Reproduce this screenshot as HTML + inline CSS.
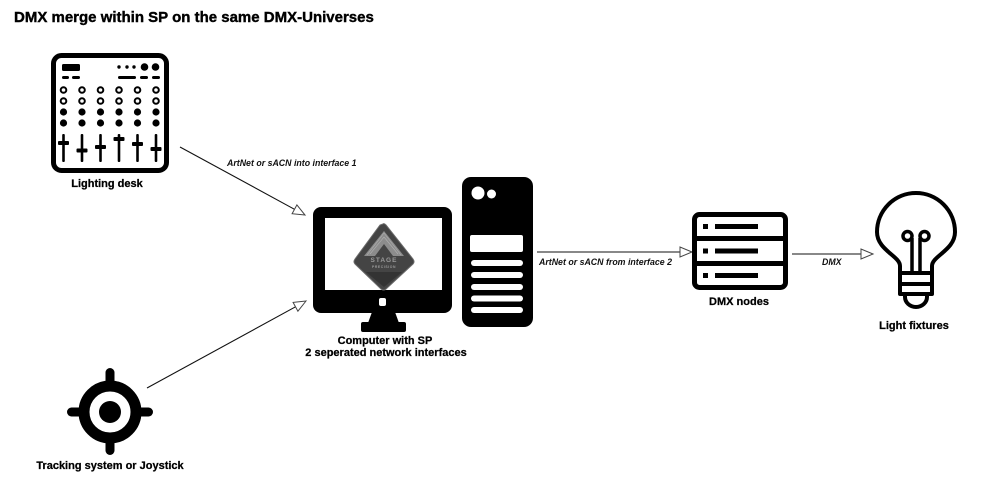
<!DOCTYPE html>
<html><head><meta charset="utf-8"><style>
html,body{margin:0;padding:0;background:#fff;}
svg{display:block;}
text{font-family:"Liberation Sans",Arial,sans-serif;}
.lbl{font-size:11px;font-weight:bold;fill:#000;text-anchor:middle;stroke:#000;stroke-width:0.25px;}
.it{font-size:8.8px;font-weight:bold;font-style:italic;fill:#111;}
</style></head><body>
<svg width="1000" height="485" viewBox="0 0 1000 485" xmlns="http://www.w3.org/2000/svg">
<rect width="1000" height="485" fill="#fff"/>
<text x="14" y="22" style="font-size:15px;font-weight:bold;fill:#000;stroke:#000;stroke-width:0.4px">DMX merge within SP on the same DMX-Universes</text>

<!-- Lighting desk -->
<rect x="53.5" y="55.5" width="113" height="115" rx="8" fill="#fff" stroke="#000" stroke-width="5"/>
<rect x="62" y="64" width="18" height="7" rx="1.5" fill="#000"/>
<rect x="62" y="76" width="7" height="3" rx="1.5" fill="#000"/>
<rect x="72" y="76" width="8" height="3" rx="1.5" fill="#000"/>
<circle cx="119" cy="67" r="1.7" fill="#000"/>
<circle cx="127" cy="67" r="1.7" fill="#000"/>
<circle cx="134" cy="67" r="1.7" fill="#000"/>
<circle cx="144.5" cy="67" r="3.8" fill="#000"/>
<circle cx="155.5" cy="67" r="3.8" fill="#000"/>
<rect x="118" y="76" width="18" height="3" rx="1.5" fill="#000"/>
<rect x="140" y="76" width="8" height="3" rx="1.5" fill="#000"/>
<rect x="152" y="76" width="8" height="3" rx="1.5" fill="#000"/>
<g fill="none" stroke="#000" stroke-width="2">
<circle cx="63.5" cy="90" r="2.8"/><circle cx="82" cy="90" r="2.8"/><circle cx="100.5" cy="90" r="2.8"/><circle cx="119" cy="90" r="2.8"/><circle cx="137.5" cy="90" r="2.8"/><circle cx="156" cy="90" r="2.8"/>
<circle cx="63.5" cy="101" r="2.8"/><circle cx="82" cy="101" r="2.8"/><circle cx="100.5" cy="101" r="2.8"/><circle cx="119" cy="101" r="2.8"/><circle cx="137.5" cy="101" r="2.8"/><circle cx="156" cy="101" r="2.8"/>
</g>
<g fill="#000">
<circle cx="63.5" cy="112" r="3.6"/><circle cx="82" cy="112" r="3.6"/><circle cx="100.5" cy="112" r="3.6"/><circle cx="119" cy="112" r="3.6"/><circle cx="137.5" cy="112" r="3.6"/><circle cx="156" cy="112" r="3.6"/>
<circle cx="63.5" cy="123" r="3.6"/><circle cx="82" cy="123" r="3.6"/><circle cx="100.5" cy="123" r="3.6"/><circle cx="119" cy="123" r="3.6"/><circle cx="137.5" cy="123" r="3.6"/><circle cx="156" cy="123" r="3.6"/>
<rect x="62.2" y="134" width="2.6" height="28" rx="1"/>
<rect x="80.7" y="134" width="2.6" height="28" rx="1"/>
<rect x="99.2" y="134" width="2.6" height="28" rx="1"/>
<rect x="117.7" y="134" width="2.6" height="28" rx="1"/>
<rect x="136.2" y="134" width="2.6" height="28" rx="1"/>
<rect x="154.7" y="134" width="2.6" height="28" rx="1"/>
<rect x="58" y="141" width="11" height="4" rx="1"/>
<rect x="76.5" y="148.5" width="11" height="4" rx="1"/>
<rect x="95" y="145" width="11" height="4" rx="1"/>
<rect x="113.5" y="137" width="11" height="4" rx="1"/>
<rect x="132" y="142" width="11" height="4" rx="1"/>
<rect x="150.5" y="147" width="11" height="4" rx="1"/>
</g>
<text class="lbl" x="107" y="187">Lighting desk</text>

<!-- Tracking -->
<g fill="#000">
<rect x="105.5" y="368" width="9" height="20" rx="4.5"/>
<rect x="105.5" y="436" width="9" height="19" rx="4.5"/>
<rect x="67" y="407.5" width="20" height="9" rx="4.5"/>
<rect x="133" y="407.5" width="20" height="9" rx="4.5"/>
</g>
<circle cx="110" cy="412" r="26" fill="none" stroke="#000" stroke-width="11"/>
<circle cx="110" cy="412" r="11" fill="#000"/>
<text class="lbl" x="110" y="469">Tracking system or Joystick</text>

<!-- Arrows -->
<g stroke="#111" stroke-width="1.1" fill="none">
<line x1="180" y1="147" x2="294.5" y2="209.3"/>
<line x1="147" y1="388" x2="295.5" y2="306.8"/>
<line x1="537" y1="252" x2="680" y2="252"/>
<line x1="792" y1="254" x2="861" y2="254"/>
</g>
<g stroke="#444" stroke-width="1" fill="#fff">
<polygon points="305,215 292.1,213.7 296.9,204.9"/>
<polygon points="306,301 297.9,311.2 293.1,302.4"/>
<polygon points="692,252 680,247 680,257"/>
<polygon points="873,254 861,249 861,259"/>
</g>
<text class="it" x="227" y="166">ArtNet or sACN into interface 1</text>
<text class="it" x="539" y="265">ArtNet or sACN from interface 2</text>
<text class="it" x="822" y="265">DMX</text>

<!-- Monitor -->
<rect x="313" y="207" width="139" height="106" rx="8" fill="#000"/>
<rect x="325" y="218" width="117" height="72" fill="#fff"/>
<rect x="379" y="298" width="7" height="8" rx="2" fill="#fff"/>
<path d="M372 312 L395 312 L399 323 L368 323 Z" fill="#000"/>
<rect x="361" y="322" width="45" height="10" rx="2" fill="#000"/>
<!-- logo -->
<path d="M383 224 Q384 223 386 225 L413 259 Q415 262 413 264 L386 289 Q384 291 381 289 L355 264 Q353 262 355 259 L380 225 Z" fill="#444" stroke="#6a6a6a" stroke-width="1"/>
<path d="M384 231 L404 256 L364 256 Z" fill="#8c8c8c"/>
<path d="M384 237 L398 254 M384 237 L370 254 M384 233 L401 255 M384 233 L367 255" stroke="#b0b0b0" stroke-width="0.6" fill="none"/>
<path d="M384 244 L393 256 L375 256 Z" fill="#444"/>
<text x="384" y="262" style="font-size:6.5px;font-weight:bold;fill:#9a9a9a;text-anchor:middle;letter-spacing:1px">STAGE</text>
<text x="384" y="268" style="font-size:3.4px;font-weight:bold;fill:#9a9a9a;text-anchor:middle;letter-spacing:0.6px">PRECISION</text>
<path d="M366 272 L402 272 L384 287 Z" fill="#333"/>

<!-- Tower -->
<rect x="462" y="177" width="71" height="150" rx="9" fill="#000"/>
<circle cx="478" cy="193" r="6.5" fill="#fff"/>
<circle cx="491.5" cy="194" r="4.5" fill="#fff"/>
<rect x="470" y="235" width="53" height="17" rx="2" fill="#fff"/>
<g fill="#fff">
<rect x="471" y="260" width="52" height="6" rx="3"/>
<rect x="471" y="272" width="52" height="6" rx="3"/>
<rect x="471" y="284" width="52" height="6" rx="3"/>
<rect x="471" y="295.5" width="52" height="6" rx="3"/>
<rect x="471" y="307" width="52" height="6" rx="3"/>
</g>
<text class="lbl" x="385" y="344">Computer with SP</text>
<text class="lbl" x="386" y="356">2 seperated network interfaces</text>

<!-- DMX nodes -->
<rect x="694.5" y="214.5" width="91" height="73" rx="5" fill="#fff" stroke="#000" stroke-width="5"/>
<rect x="695" y="236" width="90" height="5" fill="#000"/>
<rect x="695" y="261" width="90" height="5" fill="#000"/>
<g fill="#000">
<rect x="703" y="224" width="5" height="5"/><rect x="715" y="224" width="43" height="5"/>
<rect x="703" y="248.5" width="5" height="5"/><rect x="715" y="248.5" width="43" height="5"/>
<rect x="703" y="273" width="5" height="5"/><rect x="715" y="273" width="43" height="5"/>
</g>
<text class="lbl" x="739" y="305">DMX nodes</text>

<!-- Bulb -->
<g fill="none" stroke="#000" stroke-width="4" stroke-linejoin="round">
<path d="M900 273 L900 266 C900 256 877 250 877 232 A39 39 0 1 1 955 232 C955 250 932 256 932 266 L932 273"/>
<rect x="900" y="273" width="32" height="21"/>
<line x1="900" y1="284" x2="932" y2="284"/>
<path d="M905 294 L905 297 A11 10 0 0 0 927 297 L927 294"/>
<circle cx="907.5" cy="236" r="4.5" stroke-width="3.5"/>
<circle cx="924.5" cy="236" r="4.5" stroke-width="3.5"/>
<line x1="912" y1="238" x2="912" y2="273" stroke-width="3.5"/>
<line x1="920" y1="238" x2="920" y2="273" stroke-width="3.5"/>
</g>
<text class="lbl" x="914" y="329">Light fixtures</text>
</svg>
</body></html>
